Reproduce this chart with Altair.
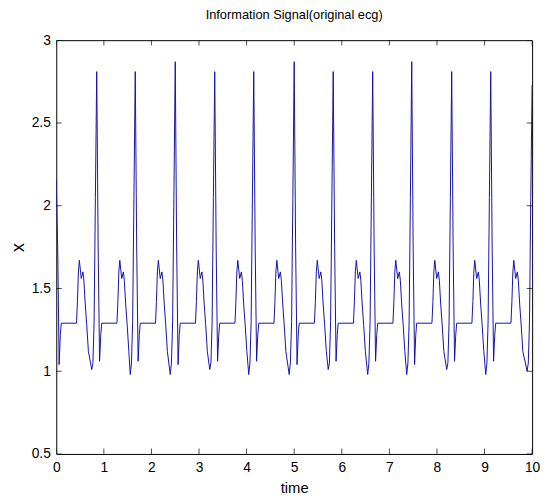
import altair as alt
import pandas as pd

# ---- values ----
r_times = [0.85, 1.66, 2.50, 3.33, 4.15, 5.00, 5.82, 6.65, 7.47, 8.31, 9.13]
r_peaks = [2.81, 2.81, 2.87, 2.81, 2.81, 2.87, 2.81, 2.81, 2.87, 2.81, 2.81]
s_mins = [1.06, 1.06, 1.04, 1.06, 1.06, 1.04, 1.06, 1.06, 1.04, 1.06, 1.06]
q_mins = [1.01, 0.98, 0.98, 1.01, 0.98, 0.98, 1.01, 0.98, 0.98, 1.01, 0.98]

start_value = 2.16   # first sample at time 0 (falling edge of a beat)
start_s = 1.04
end_q = 1.00
end_value = 2.73     # last sample at time 10 (rising edge of a beat)
end_time = 10.0

# waveform after an R peak (offset from R, value); "S" marks the per-beat S dip
after_r_offsets = [0.03, 0.06, 0.085, 0.105, 0.425, 0.445, 0.465, 0.485, 0.525, 0.56, 0.58, 0.61, 0.64, 0.675]
after_r_values = [1.75, "S", 1.22, 1.29, 1.29, 1.42, 1.60, 1.67, 1.56, 1.60, 1.55, 1.40, 1.28, 1.12]
# waveform before an R peak (offset from R, value); "Q" marks the per-beat Q dip
before_r_offsets = [-0.105, -0.08, -0.055, -0.028]
before_r_values = ["Q", 1.05, 1.30, 2.05]

x_ticks = [0, 1, 2, 3, 4, 5, 6, 7, 8, 9, 10]
y_ticks = [0.5, 1, 1.5, 2, 2.5, 3]

# ---- build the table ----
times, vals = [], []


def after(r, s):
    for o, v in zip(after_r_offsets, after_r_values):
        times.append(r + o)
        vals.append(s if v == "S" else v)


def before(r, q):
    for o, v in zip(before_r_offsets, before_r_values):
        times.append(r + o)
        vals.append(q if v == "Q" else v)


times.append(0.0)
vals.append(start_value)
after(0.0, start_s)
for rt, rp, sm, qm in zip(r_times, r_peaks, s_mins, q_mins):
    before(rt, qm)
    times.append(rt)
    vals.append(rp)
    after(rt, sm)
before(end_time, end_q)
times.append(end_time)
vals.append(end_value)

df = pd.DataFrame({"time": times, "x": vals})

FONT = "Liberation Sans"
W, H = 483, 420

xscale = alt.Scale(domain=[0, 10], nice=False, zero=False)
yscale = alt.Scale(domain=[0.5, 3], nice=False, zero=False)

line = alt.Chart(df).mark_line(color="#1212a8", strokeWidth=1, clip=True).encode(
    x=alt.X("time:Q", scale=xscale,
            axis=alt.Axis(values=x_ticks, title="time", format="d", labelFlush=False,
                          labelPadding=7, titlePadding=6, titleFontSize=15)),
    y=alt.Y("x:Q", scale=yscale,
            axis=alt.Axis(values=y_ticks, title="x", format="~g", labelFlush=False,
                          labelPadding=6, titleFontSize=18, titleX=-38, titleBaseline="middle")),
    order="time:Q",
)

xt = pd.DataFrame({"time": x_ticks})
yt = pd.DataFrame({"x": y_ticks})

tick_x_bottom = alt.Chart(xt).mark_tick(orient="vertical", size=11, thickness=1, color="black", clip=True).encode(
    x=alt.X("time:Q", scale=xscale), y=alt.value(H))
tick_x_top = alt.Chart(xt).mark_tick(orient="vertical", size=11, thickness=1, color="black", clip=True).encode(
    x=alt.X("time:Q", scale=xscale), y=alt.value(0))
tick_y_left = alt.Chart(yt).mark_tick(orient="horizontal", size=11, thickness=1, color="black", clip=True).encode(
    y=alt.Y("x:Q", scale=yscale), x=alt.value(0))
tick_y_right = alt.Chart(yt).mark_tick(orient="horizontal", size=11, thickness=1, color="black", clip=True).encode(
    y=alt.Y("x:Q", scale=yscale), x=alt.value(W))

chart = alt.layer(line, tick_x_bottom, tick_x_top, tick_y_left, tick_y_right).properties(
    width=W, height=H,
    title=alt.TitleParams("Information Signal(original ecg)", font=FONT, fontSize=13,
                          fontWeight="normal", color="black", offset=11),
    autosize=alt.AutoSizeParams(type="none"),
    padding={"left": 49, "top": 29, "right": 8, "bottom": 38},
).configure_view(stroke="black", strokeWidth=1).configure_axis(
    domain=False, ticks=False, grid=False,
    labelFont=FONT, labelFontSize=14, labelColor="black",
    titleFont=FONT, titleFontWeight="normal", titleColor="black",
)

chart.save("out.html", embed_options={"renderer": "svg", "actions": False})
